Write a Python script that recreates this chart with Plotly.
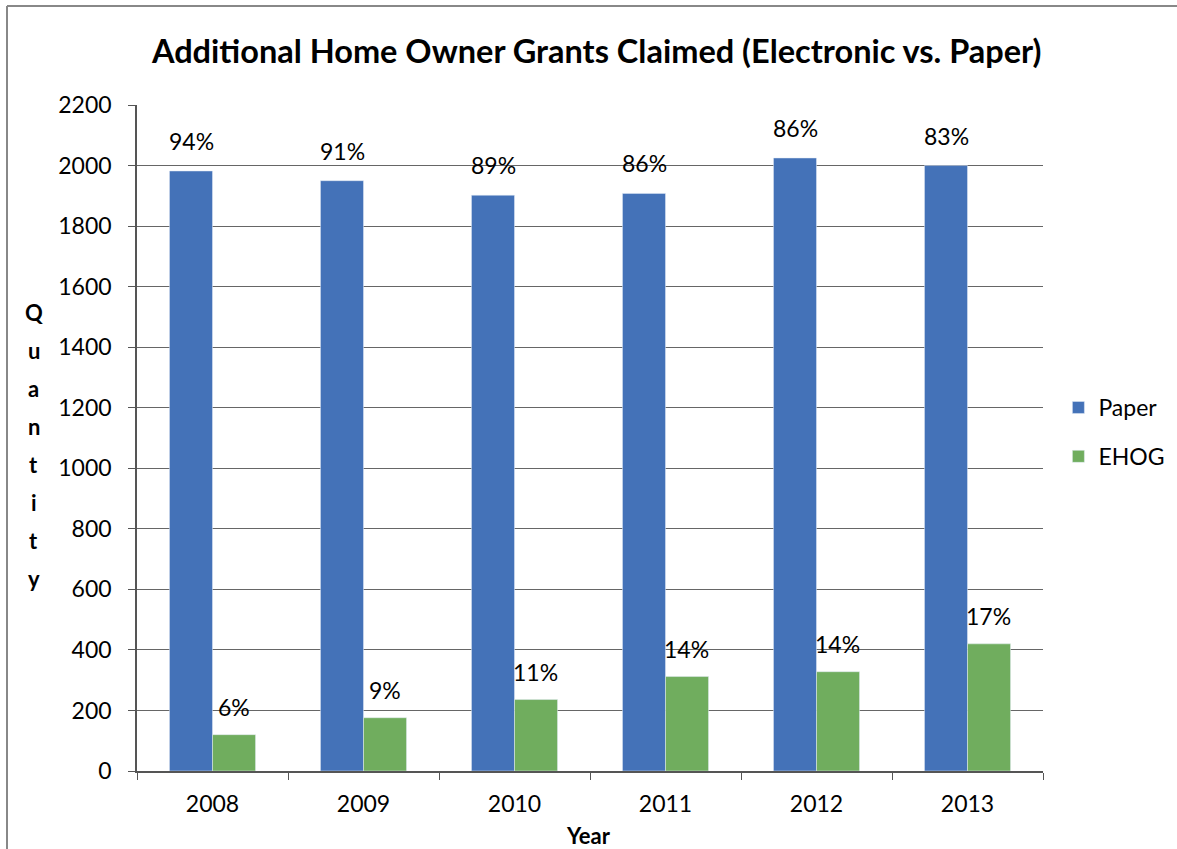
import plotly.graph_objects as go

years = ["2008", "2009", "2010", "2011", "2012", "2013"]
paper = [1982, 1950, 1902, 1908, 2025, 2000]
ehog = [120, 176, 236, 312, 328, 420]
paper_pct = ["94%", "91%", "89%", "86%", "86%", "83%"]
ehog_pct = ["6%", "9%", "11%", "14%", "14%", "17%"]

FONT = "Lato"
BLUE = "#4472B8"
GREEN = "#70AD5E"

fig = go.Figure()
fig.add_bar(name="Paper", x=years, y=paper, marker_color=BLUE, legendgroup="p")
fig.add_bar(name="EHOG", x=years, y=ehog, marker_color=GREEN, legendgroup="e")

# category axis: annotation x positions use category index
for i, (v, t) in enumerate(zip(paper, paper_pct)):
    fig.add_annotation(x=i, y=v, text=t, showarrow=False, xshift=-21, yshift=14,
                       yanchor="bottom", font=dict(size=23, color="black", family=FONT))
for i, (v, t) in enumerate(zip(ehog, ehog_pct)):
    fig.add_annotation(x=i, y=v, text=t, showarrow=False, xshift=21, yshift=12,
                       yanchor="bottom", font=dict(size=23, color="black", family=FONT))

letters = list("Quantity")
for i, ch in enumerate(letters):
    fig.add_annotation(xref="paper", yref="paper", x=-0.114, y=(771 - 312 - i * 38) / 666,
                       text="<b>%s</b>" % ch, showarrow=False, xanchor="center", yanchor="middle",
                       font=dict(size=22, color="black", family=FONT))

fig.add_annotation(xref="paper", yref="paper", x=(588 - 137) / 906, y=-(835 - 771) / 666,
                   text="<b>Year</b>", showarrow=False, xanchor="center", yanchor="middle",
                   font=dict(size=22, color="black", family=FONT))

bx0 = -(137 - 7) / 906
by1 = (771 - 6) / 666
fig.update_layout(
    width=1177, height=849,
    margin=dict(l=137, r=134, t=105, b=78, autoexpand=False),
    paper_bgcolor="white", plot_bgcolor="white",
    barmode="group", bargap=0.43, bargroupgap=0,
    title=dict(text="<b>Additional Home Owner Grants Claimed (Electronic vs. Paper)</b>",
               x=0.507, xanchor="center", y=0.939, yanchor="middle",
               font=dict(size=32.5, color="black", family=FONT)),
    font=dict(family=FONT, color="black", size=23),
    legend=dict(x=1.017, xanchor="left", y=0.509, yanchor="middle",
                traceorder="grouped", tracegroupgap=16,
                font=dict(size=23, color="black", family=FONT)),
    xaxis=dict(type="category", range=[-0.5, 5.5], showline=True, linecolor="#555", linewidth=1.5,
               ticks="outside", tickson="boundaries", ticklen=7, tickcolor="#555", automargin=False,
               ticklabelstandoff=12, tickfont=dict(size=23)),
    yaxis=dict(range=[0, 2200], dtick=200, showline=True, linecolor="#555", linewidth=1.5,
               ticks="outside", ticklen=7, tickcolor="#555", automargin=False,
               ticklabelstandoff=12,
               showgrid=True, gridcolor="#666", gridwidth=1.2,
               tickfont=dict(size=23), zeroline=False),
    shapes=[
        dict(type="line", xref="paper", yref="paper", x0=bx0, x1=bx0, y0=-0.2, y1=by1,
             line=dict(color="#888", width=2), layer="below"),
        dict(type="line", xref="paper", yref="paper", x0=bx0, x1=1.2, y0=by1, y1=by1,
             line=dict(color="#888", width=2), layer="below"),
    ],
)

fig.write_html("out.html", post_script="document.body.style.margin='0';",
               config={"displayModeBar": False})
